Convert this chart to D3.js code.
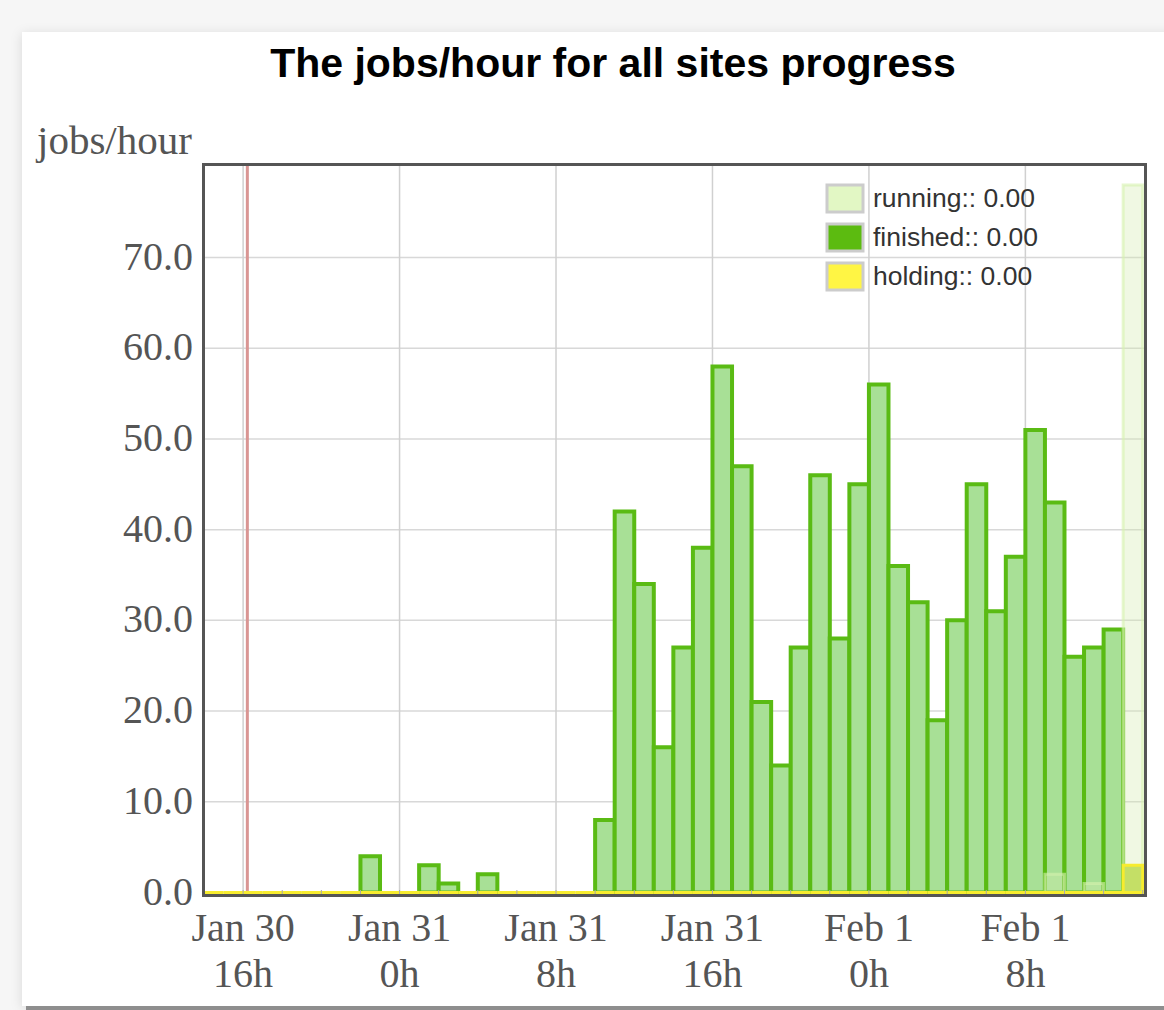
<!DOCTYPE html>
<html>
<head>
<meta charset="utf-8">
<script src="https://cdnjs.cloudflare.com/ajax/libs/d3/7.8.5/d3.min.js"></script>
<style>
  body { margin: 0; background: #f6f6f6; }
  svg { display: block; }
</style>
</head>
<body>
<div id="chart-area"></div>
<script>
// Data: one value per hour, starting Jan 30 14h
var startHour = "2013-01-30T14:00";
var endTime = "2013-02-01T14:07";
var markerTime = "2013-01-30T16:13";

var finished = [0, 0, 0, 0, 0, 0, 0, 0, 4, 0, 0, 3, 1, 0, 2, 0, 0, 0, 0, 0,
    8, 42, 34, 16, 27, 38, 58, 47, 21, 14, 27, 46, 28, 45, 56, 36, 32, 19, 30,
    45, 31, 37, 51, 43, 26, 27, 29, 0];
var running = [0, 0, 0, 0, 0, 0, 0, 0, 0, 0, 0, 0, 0, 0, 0, 0, 0, 0, 0, 0,
    0, 0, 0, 0, 0, 0, 0, 0, 0, 0, 0, 0, 0, 0, 0, 0, 0, 0, 0,
    0, 0, 0, 0, 2, 0, 1, 0, 78];
var holding = [0, 0, 0, 0, 0, 0, 0, 0, 0, 0, 0, 0, 0, 0, 0, 0, 0, 0, 0, 0,
    0, 0, 0, 0, 0, 0, 0, 0, 0, 0, 0, 0, 0, 0, 0, 0, 0, 0, 0,
    0, 0, 0, 0, 0, 0, 0, 0, 3];

var yTicks = [0, 10, 20, 30, 40, 50, 60, 70];
var legendNames = ["running", "finished", "holding"];
var legendValues = ["0.00", "0.00", "0.00"];

var W = 1164, H = 1010;
var plot = { left: 204, right: 1145, top: 165, bottom: 895 };
var serif = "'Liberation Serif', 'Times New Roman', serif";
var sans = "'Liberation Sans', Arial, Helvetica, sans-serif";

var svg = d3.select("#chart-area")
    .append("svg")
        .attr("width", W)
        .attr("height", H);

// card with shadow
var defs = svg.append("defs");
var shadow = defs.append("filter").attr("id", "shadow")
    .attr("x", "-5%").attr("y", "-5%").attr("width", "110%").attr("height", "110%");
shadow.append("feDropShadow")
    .attr("dx", 0).attr("dy", 2)
    .attr("stdDeviation", 6)
    .attr("flood-color", "#000")
    .attr("flood-opacity", 0.12);

svg.append("rect")
    .attr("x", 22).attr("y", 32)
    .attr("width", W - 22 + 20).attr("height", 974)
    .attr("fill", "#fff")
    .attr("filter", "url(#shadow)");
svg.append("rect")
    .attr("x", 26).attr("y", 1006)
    .attr("width", W - 26).attr("height", 4)
    .attr("fill", "#8e8e8e");

// Title
svg.append("text")
    .attr("x", 613)
    .attr("y", 77)
    .attr("text-anchor", "middle")
    .attr("font-family", sans)
    .attr("font-weight", "bold")
    .attr("font-size", "41px")
    .attr("fill", "#000")
    .text("The jobs/hour for all sites progress");

// Scales
var parse = d3.timeParse("%Y-%m-%dT%H:%M");
var t0 = parse(startHour);
var x = d3.scaleTime()
    .domain([t0, parse(endTime)])
    .range([plot.left, plot.right]);
var y = d3.scaleLinear()
    .domain([0, 80.2])
    .range([plot.bottom - 2.5, plot.top]);

function hourData(values) {
    return values.map(function(v, i) {
        return { t: d3.timeHour.offset(t0, i), v: v };
    });
}

// Grid
var majorTicks = d3.timeHour.every(8).range(t0, parse(endTime));
var minorTicks = d3.timeHour.every(2).range(t0, parse(endTime));

var grid = svg.append("g");
grid.selectAll("line.h").data(yTicks).enter()
    .append("line")
    .attr("x1", plot.left).attr("x2", plot.right)
    .attr("y1", function(d) { return y(d); })
    .attr("y2", function(d) { return y(d); })
    .attr("stroke", "#d8d8d8")
    .attr("stroke-width", 1.5);
grid.selectAll("line.v").data(majorTicks).enter()
    .append("line")
    .attr("x1", function(d) { return x(d); })
    .attr("x2", function(d) { return x(d); })
    .attr("y1", plot.top).attr("y2", plot.bottom)
    .attr("stroke", "#d0d0d0")
    .attr("stroke-width", 1.5);

// red marker line
svg.append("line")
    .attr("x1", x(parse(markerTime))).attr("x2", x(parse(markerTime)))
    .attr("y1", plot.top).attr("y2", plot.bottom)
    .attr("stroke", "#d99593")
    .attr("stroke-width", 3);

// Bars (drawn as paths so zero values still show their outline)
function barPath(d) {
    var x0 = x(d.t), x1 = x(d3.timeHour.offset(d.t, 1));
    return "M" + x0 + "," + y(0) + "V" + y(d.v) + "H" + x1 + "V" + y(0) + "Z";
}

function drawBars(values, opts) {
    var data = hourData(values).filter(function(d) {
        return opts.keepZero || d.v > 0;
    });
    svg.append("g").selectAll("path")
        .data(data).enter()
        .append("path")
        .attr("d", barPath)
        .attr("fill", opts.fill)
        .attr("fill-opacity", opts.fillOpacity)
        .attr("stroke", opts.stroke)
        .attr("stroke-opacity", opts.strokeOpacity)
        .attr("stroke-width", opts.strokeWidth);
}

drawBars(finished, { fill: "#a8e096", fillOpacity: 1, stroke: "#5abb14",
    strokeOpacity: 1, strokeWidth: 4 });
drawBars(running, { fill: "#d3ecb0", fillOpacity: 0.35, stroke: "#d6f2ae",
    strokeOpacity: 0.6, strokeWidth: 3 });
drawBars(holding, { fill: "#c4df66", fillOpacity: 1, stroke: "#f7ec2e",
    strokeOpacity: 1, strokeWidth: 3, keepZero: true });

// minor ticks along bottom
svg.append("g").selectAll("line").data(minorTicks).enter()
    .append("line")
    .attr("x1", function(d) { return x(d); })
    .attr("x2", function(d) { return x(d); })
    .attr("y1", plot.bottom - 5).attr("y2", plot.bottom)
    .attr("stroke", "#aaa")
    .attr("stroke-width", 1);

// Frame
svg.append("rect")
    .attr("x", plot.left - 0.5).attr("y", plot.top - 0.5)
    .attr("width", plot.right - plot.left + 1)
    .attr("height", plot.bottom - plot.top + 1)
    .attr("fill", "none")
    .attr("stroke", "#555")
    .attr("stroke-width", 3);

// Y Axis labels
svg.append("g").selectAll("text").data(yTicks).enter()
    .append("text")
    .attr("x", 193)
    .attr("y", function(d) { return y(d) + 12; })
    .attr("text-anchor", "end")
    .attr("font-family", serif)
    .attr("font-size", "40px")
    .attr("fill", "#555")
    .text(function(d) { return d3.format(".1f")(d); });

svg.append("text")
    .attr("x", 37)
    .attr("y", 154)
    .attr("font-family", serif)
    .attr("font-size", "41px")
    .attr("fill", "#555")
    .text("jobs/hour");

// X Axis labels
var fmtDay = d3.timeFormat("%b %-d");
var fmtHour = d3.timeFormat("%-Hh");
var xLabels = svg.append("g").selectAll("text").data(majorTicks).enter()
    .append("text")
    .attr("text-anchor", "middle")
    .attr("font-family", serif)
    .attr("font-size", "40px")
    .attr("fill", "#555");
xLabels.append("tspan")
    .attr("x", function(d) { return x(d); })
    .attr("y", 941)
    .text(function(d) { return fmtDay(d); });
xLabels.append("tspan")
    .attr("x", function(d) { return x(d); })
    .attr("y", 987)
    .text(function(d) { return fmtHour(d); });

// Legend
var legendColor = d3.scaleOrdinal()
    .domain(legendNames)
    .range(["#e2f7c4", "#5cbb10", "#fff544"]);

var legend = svg.append("g")
    .attr("transform", "translate(827, 185)");

legendNames.forEach(function(name, i) {
    var row = legend.append("g")
        .attr("transform", "translate(0, " + (i * 39) + ")");
    row.append("rect")
        .attr("width", 36).attr("height", 27)
        .attr("fill", legendColor(name))
        .attr("stroke", "#ccc")
        .attr("stroke-width", 3);
    row.append("text")
        .attr("x", 46)
        .attr("y", 22)
        .attr("font-family", sans)
        .attr("font-size", "26.5px")
        .attr("fill", "#333")
        .text(name + ":: " + legendValues[i]);
});
</script>
</body>
</html>
